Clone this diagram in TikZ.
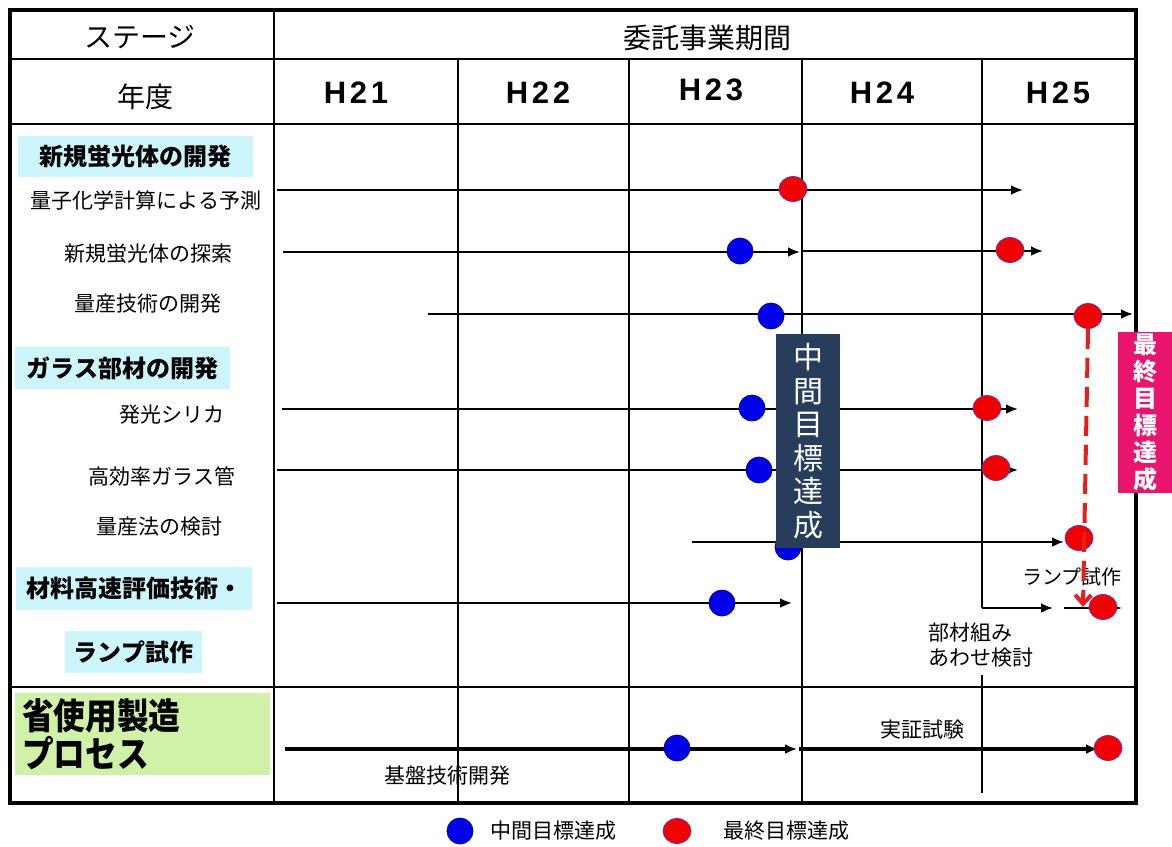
\documentclass[tikz,border=0pt]{standalone}
\usepackage{fontspec}
\setmainfont{Noto Sans CJK JP}
\newfontfamily\yearfont{Liberation Sans}[LetterSpace=12]
\newfontfamily\narrowfont{Noto Sans CJK JP}[FakeStretch=0.88]
\usetikzlibrary{arrows.meta,shapes.geometric}
\definecolor{grpcyan}{RGB}{204,246,252}
\definecolor{grpgreen}{RGB}{208,242,168}
\definecolor{midblue}{RGB}{38,62,92}
\definecolor{finpink}{RGB}{233,20,110}
\definecolor{dotblue}{RGB}{0,0,232}
\definecolor{dotblueline}{RGB}{0,0,150}
\definecolor{dotred}{RGB}{240,0,0}
\definecolor{dotredline}{RGB}{112,48,160}
\definecolor{dashred}{RGB}{230,30,30}
\begin{document}
\begin{tikzpicture}[x=1pt,y=-1pt,
  every node/.style={inner sep=0pt},
  head/.style={font=\fontsize{28}{32}\selectfont},
  year/.style={font=\yearfont\bfseries\fontsize{31}{31}\selectfont},
  lab/.style={font=\fontsize{21}{25}\selectfont},
  grp/.style={fill=grpcyan,font=\bfseries\fontsize{24}{28}\selectfont},
  frame/.style={line width=3.5pt},
  grid/.style={line width=2pt},
  ar/.style={-{Latex[length=12pt,width=10pt]},line width=2.8pt},
  bdot/.style={circle,fill=dotblue,draw=dotblueline,line width=0.8pt,minimum size=26pt},
  rdot/.style={ellipse,fill=dotred,draw=dotredline,line width=0.8pt,minimum width=28pt,minimum height=25pt}]
\fill[white] (0,0) rectangle (1172,846);
\useasboundingbox (0,0) rectangle (1172,846);
\draw[frame] (10,10) rectangle (1136,803);
\foreach \y in {59,124,687} \draw[grid] (10,\y) -- (1136,\y);
\draw[grid] (274,10) -- (274,803);
\foreach \x in {458,629,802} \draw[grid] (\x,59) -- (\x,803);
\draw[grid] (982,59) -- (982,608);
\draw[grid] (982,675) -- (982,793);
\node[head] (stage) at (140,37) {ステージ};
\node[head] (nendo) at (145,97) {年度};
\node[head] (kikan) at (707,38) {委託事業期間};
\foreach \n/\x/\y in {21/356/93,22/538/93,23/711/90,24/882/93,25/1058/93}
  \node[year] (h\n) at (\x,\y) {H\n};
\node[grp,minimum width=235pt,minimum height=41pt] (gkei) at (135.5,156.5) {新規蛍光体の開発};
\node[grp,minimum width=215pt,minimum height=42pt] (ggla) at (122.5,368) {ガラス部材の開発};
\node[grp,minimum width=236pt,minimum height=43pt] (gzai) at (134,588.5) {材料高速評価技術・};
\node[grp,minimum width=137pt,minimum height=42pt] (glam) at (133.5,652) {ランプ試作};
\node[fill=grpgreen,minimum width=255pt,minimum height=82pt,text width=241pt,align=left,
  font=\narrowfont\bfseries\fontsize{36}{38}\selectfont] (gpro) at (142.5,734) {省使用製造\\プロセス};
\node[lab] (lq1) at (146,200) {量子化学計算による予測};
\node[lab] (lq2) at (148,254) {新規蛍光体の探索};
\node[lab] (lq3) at (148,304) {量産技術の開発};
\node[lab] (lg1) at (172,415) {発光シリカ};
\node[lab] (lg2) at (162,477) {高効率ガラス管};
\node[lab] (lg3) at (159,527) {量産法の検討};
\foreach \n/\xa/\ya/\xb/\yb in {q1/277/190/1023/190,q2/283/252/800/252,q2b/803/251/1043/251,
  q3/428/314/1133/314,g1/282/409/1018/409,g2/277/470/1018/470,g3/692/542/1064/542,
  m1/277/603/792/603,bu/982/608/1053/608,la/1064/608/1122/608}
  {\coordinate (s\n) at (\xa,\ya); \coordinate (e\n) at (\xb,\yb); \draw[ar] (s\n) -- (e\n);}
\foreach \n/\xa/\xb in {p1/285/797,p2/799/1098}
  {\coordinate (s\n) at (\xa,749); \coordinate (e\n) at (\xb,749); \draw[ar,line width=3.8pt] (s\n) -- (e\n);}
\node[lab,font=\fontsize{20}{24}\selectfont] (tlam) at (1072,577) {ランプ試作};
\node[lab,anchor=west,align=left] (tbuz) at (928,645) {部材組み\\あわせ検討};
\node[lab] (tjis) at (922,730) {実証試験};
\node[lab] (tkib) at (447,776) {基盤技術開発};
\foreach \n/\x/\y in {q2/740/251,q3/771/316,g1/752/408,g2/759/470,g3/788/547,m1/722/603,p/677/748}
  \node[bdot] (b\n) at (\x,\y) {};
\foreach \n/\x/\y in {q1/793/189,q2/1010/250,q3/1088/316,g1/987/408,g2/996/468,g3/1079/538,la/1103/607,p/1108/748}
  \node[rdot] (r\n) at (\x,\y) {};
\coordinate (dend) at (1083,607);
\draw[dashred,line width=4pt,dash pattern=on 20pt off 9pt,-{Straight Barb[length=9pt,width=16pt]}] (rq3.south) -- (dend);
\node[fill=midblue,text=white,minimum width=64pt,minimum height=214pt,align=center,
  font=\fontsize{30}{33.5}\selectfont] (midgoal) at (808,441) {中\\間\\目\\標\\達\\成};
\node[fill=finpink,text=white,minimum width=54pt,minimum height=161pt,align=center,
  font=\bfseries\fontsize{24}{27}\selectfont] (fingoal) at (1145,412.5) {最\\終\\目\\標\\達\\成};
\node[bdot] (legb) at (460,831) {};
\node[lab,anchor=west] (legbt) at (490,831) {中間目標達成};
\node[rdot] (legr) at (677,831) {};
\node[lab,anchor=west] (legrt) at (723,831) {最終目標達成};
\end{tikzpicture}
\end{document}
